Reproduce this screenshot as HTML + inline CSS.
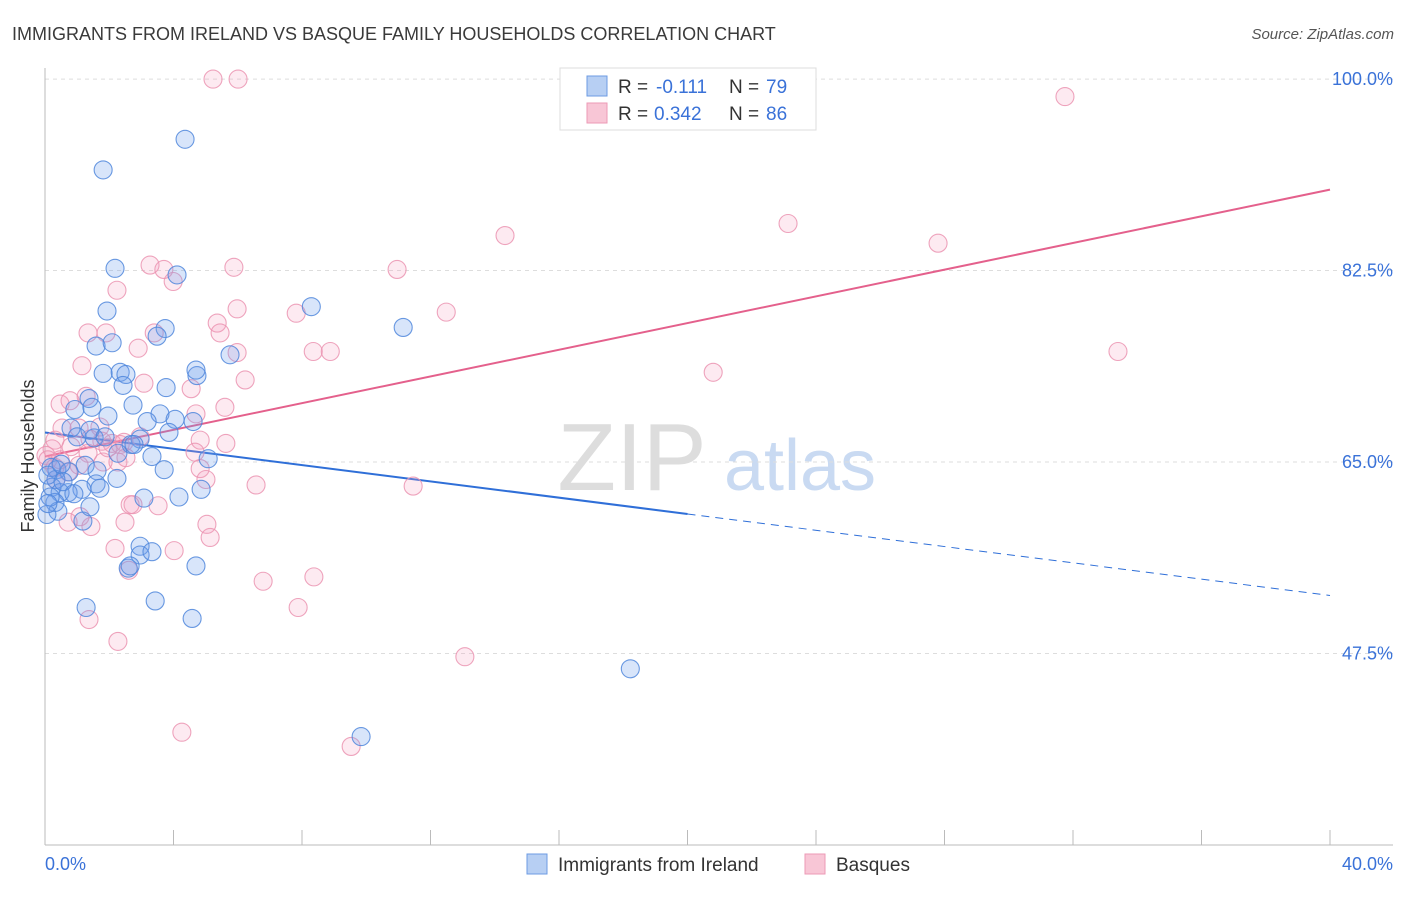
<!DOCTYPE html>
<html><head><meta charset="utf-8"><style>
body{margin:0;background:#fff;font-family:"Liberation Sans",sans-serif}
svg text{font-family:"Liberation Sans",sans-serif}
</style></head><body>
<svg id="chart" width="1406" height="892" viewBox="0 0 1406 892" xmlns="http://www.w3.org/2000/svg">
<text x="12" y="40" font-size="18" fill="#3a3a3a">IMMIGRANTS FROM IRELAND VS BASQUE FAMILY HOUSEHOLDS CORRELATION CHART</text>
<text x="1394" y="39" font-size="15" fill="#555" text-anchor="end" font-style="italic">Source: ZipAtlas.com</text>
<g>
<text x="632" y="490" font-size="96" fill="#ddd" font-family="Liberation Serif,serif" text-anchor="middle">ZIP</text>
<text x="800" y="490" font-size="72" fill="#c9daf2" text-anchor="middle">atlas</text>
</g>
<g id="grid"></g>
<g id="axes"></g>
<g id="trends"></g>
<g id="points"></g>
<text transform="translate(34,456) rotate(-90)" font-size="18" fill="#333" text-anchor="middle">Family Households</text>
<g>
<rect x="560" y="68" width="256" height="62" fill="#fff" stroke="#ddd"/>
<rect x="587" y="76" width="20" height="20" fill="#b7cff3" stroke="#6c9be3"/>
<rect x="587" y="103" width="20" height="20" fill="#f8c6d6" stroke="#ec9ab6"/>
<text x="618" y="93" font-size="19" fill="#333">R =</text>
<text x="656" y="93" font-size="19" fill="#3a72d8">-0.111</text>
<text x="729" y="93" font-size="19" fill="#333">N =</text>
<text x="766" y="93" font-size="19" fill="#3a72d8">79</text>
<text x="618" y="120" font-size="19" fill="#333">R =</text>
<text x="654" y="120" font-size="19" fill="#3a72d8">0.342</text>
<text x="729" y="120" font-size="19" fill="#333">N =</text>
<text x="766" y="120" font-size="19" fill="#3a72d8">86</text>
</g>
<g>
<rect x="527" y="854" width="20" height="20" fill="#b7cff3" stroke="#6c9be3"/>
<text x="558" y="871" font-size="19" fill="#333">Immigrants from Ireland</text>
<rect x="805" y="854" width="20" height="20" fill="#f8c6d6" stroke="#ec9ab6"/>
<text x="836" y="871" font-size="19" fill="#333">Basques</text>
</g>
</svg>
<script>
const yTicks=[47.5,65.0,82.5,100.0];
const xTickLabels=["0.0%","40.0%"];
const blueX=[4.36,1.81,2.18,4.11,8.29,1.93,11.15,3.74,3.49,1.59,2.09,5.76,1.81,2.34,2.52,2.43,3.77,4.73,1.37,2.74,1.96,3.58,3.18,4.05,4.61,0.93,1.46,3.86,2.96,2.68,1.53,0.81,1.0,2.27,3.33,5.08,2.77,3.71,0.37,0.75,1.25,1.62,2.24,1.59,1.15,0.72,0.34,0.22,0.47,0.31,0.4,1.71,4.86,4.17,3.08,1.18,1.4,2.59,2.96,2.96,3.33,3.43,4.70,1.28,4.58,18.22,9.84,0.19,0.09,0.56,0.16,0.9,0.06,4.70,2.65,0.5,1.4,1.87,0.09];
const blueY=[94.5,91.7,82.7,82.1,79.2,78.8,77.3,77.2,76.5,75.6,75.9,74.8,73.1,73.2,73.0,72.0,71.8,72.9,70.8,70.2,69.2,69.4,68.7,68.9,68.7,69.8,70.0,67.7,67.1,66.6,67.2,68.1,67.3,65.8,65.5,65.3,66.6,64.3,64.3,64.1,64.7,64.2,63.5,63.0,62.5,62.2,63.4,62.7,62.2,61.3,60.5,62.6,62.5,61.8,61.7,59.6,60.9,55.3,57.3,56.5,56.8,52.3,55.5,51.7,50.7,46.1,39.9,64.5,63.8,63.2,61.8,62.1,60.2,73.4,55.5,64.8,67.9,67.3,61.2];
const pinkX=[5.23,6.01,31.75,14.32,23.13,27.8,3.27,3.7,5.88,10.96,3.99,2.24,5.98,7.82,12.49,1.34,1.9,5.36,5.45,3.4,2.9,5.98,8.35,8.88,33.4,20.8,1.15,3.08,6.23,4.55,1.28,0.47,0.78,5.6,4.7,1.06,1.71,0.53,0.31,1.77,2.09,2.46,0.81,1.34,1.81,2.27,0.22,0.03,0.09,0.31,4.83,5.63,4.67,4.83,5.01,6.57,11.46,0.72,1.06,0.47,1.4,2.74,3.52,2.65,1.09,0.72,1.43,2.49,5.04,5.14,2.18,4.02,2.61,6.79,8.37,7.88,1.37,2.27,13.07,4.26,9.53,2.34,2.52,1.96,2.96,0.34];
const pinkY=[100.0,100.0,98.4,85.7,86.8,85.0,83.0,82.6,82.8,82.6,81.5,80.7,79.0,78.6,78.7,76.8,76.8,77.7,76.8,76.8,75.4,75.0,75.1,75.1,75.1,73.2,73.8,72.2,72.5,71.7,71.0,70.3,70.6,70.0,69.4,68.1,68.2,68.1,67.0,66.9,66.7,66.8,66.4,65.8,65.0,65.0,66.2,65.6,65.2,64.5,67.0,66.7,65.9,64.4,63.4,62.9,62.8,64.1,64.7,65.2,67.1,61.1,61.0,61.1,60.0,59.5,59.1,59.5,59.3,58.1,57.1,56.9,55.1,54.1,54.5,51.7,50.6,48.6,47.2,40.3,39.0,66.6,65.4,66.3,67.3,63.4];
const blueTrend=[67.7,52.8];
const pinkTrend=[65.5,89.9];

const NS="http://www.w3.org/2000/svg";
const X0=45,X1=1330,Y65=462,PXY=10.94;
function sx(v){return X0+(v/40)*(X1-X0);}
function sy(v){return Y65-(v-65)*PXY;}
function mk(tag,attrs,parent){const e=document.createElementNS(NS,tag);for(const k in attrs)e.setAttribute(k,attrs[k]);parent.appendChild(e);return e;}
const grid=document.getElementById('grid'),axes=document.getElementById('axes'),trends=document.getElementById('trends'),pts=document.getElementById('points');
yTicks.forEach(t=>{
 const l=mk('line',{x1:45,x2:1393,y1:sy(t),y2:sy(t),stroke:'#ddd','stroke-dasharray':'4,4'},grid);
 
 
 const tx=mk('text',{x:1393,y:sy(t)+6,'font-size':18,fill:'#3a72d8','text-anchor':'end'},grid);
 tx.textContent=t.toFixed(1)+'%';
 
 
});
const a1=mk('line',{x1:45,x2:45,y1:68,y2:845,stroke:'#bbb'},axes);


const a2=mk('line',{x1:45,x2:1393,y1:845,y2:845,stroke:'#bbb'},axes);


for(let i=0;i<=10;i++){
 const tk=mk('line',{x1:sx(i*4),x2:sx(i*4),y1:830,y2:845,stroke:'#bbb'},axes);
 
 
}
const xl0=mk('text',{x:45,y:870,'font-size':18,fill:'#3a72d8'},axes);
xl0.textContent=xTickLabels[0];


const xl1=mk('text',{x:1393,y:870,'font-size':18,fill:'#3a72d8','text-anchor':'end'},axes);
xl1.textContent=xTickLabels[1];


function drawPts(xs,ys,fill,stroke,name){
 xs.forEach((x,i)=>{
  const c=mk('circle',{cx:sx(x),cy:sy(ys[i]),r:9,fill:fill,stroke:stroke,'stroke-width':1.1},pts);
  
  
 });
}
drawPts(pinkX,pinkY,'rgba(244,160,190,0.22)','rgba(235,148,178,0.85)','basques-point');
drawPts(blueX,blueY,'rgba(110,160,235,0.27)','rgba(80,135,220,0.85)','ireland-point');
const bMid=blueTrend[0]+(blueTrend[1]-blueTrend[0])*0.5;
const b1=mk('line',{x1:sx(0),y1:sy(blueTrend[0]),x2:sx(20),y2:sy(bMid),stroke:'#2f6fd8','stroke-width':2},trends);


const b2=mk('line',{x1:sx(20),y1:sy(bMid),x2:sx(40),y2:sy(blueTrend[1]),stroke:'#2f6fd8','stroke-width':1,'stroke-dasharray':'8,6'},trends);


const p1=mk('line',{x1:sx(0),y1:sy(pinkTrend[0]),x2:sx(40),y2:sy(pinkTrend[1]),stroke:'#e4608c','stroke-width':2},trends);


</script>
</body></html>
